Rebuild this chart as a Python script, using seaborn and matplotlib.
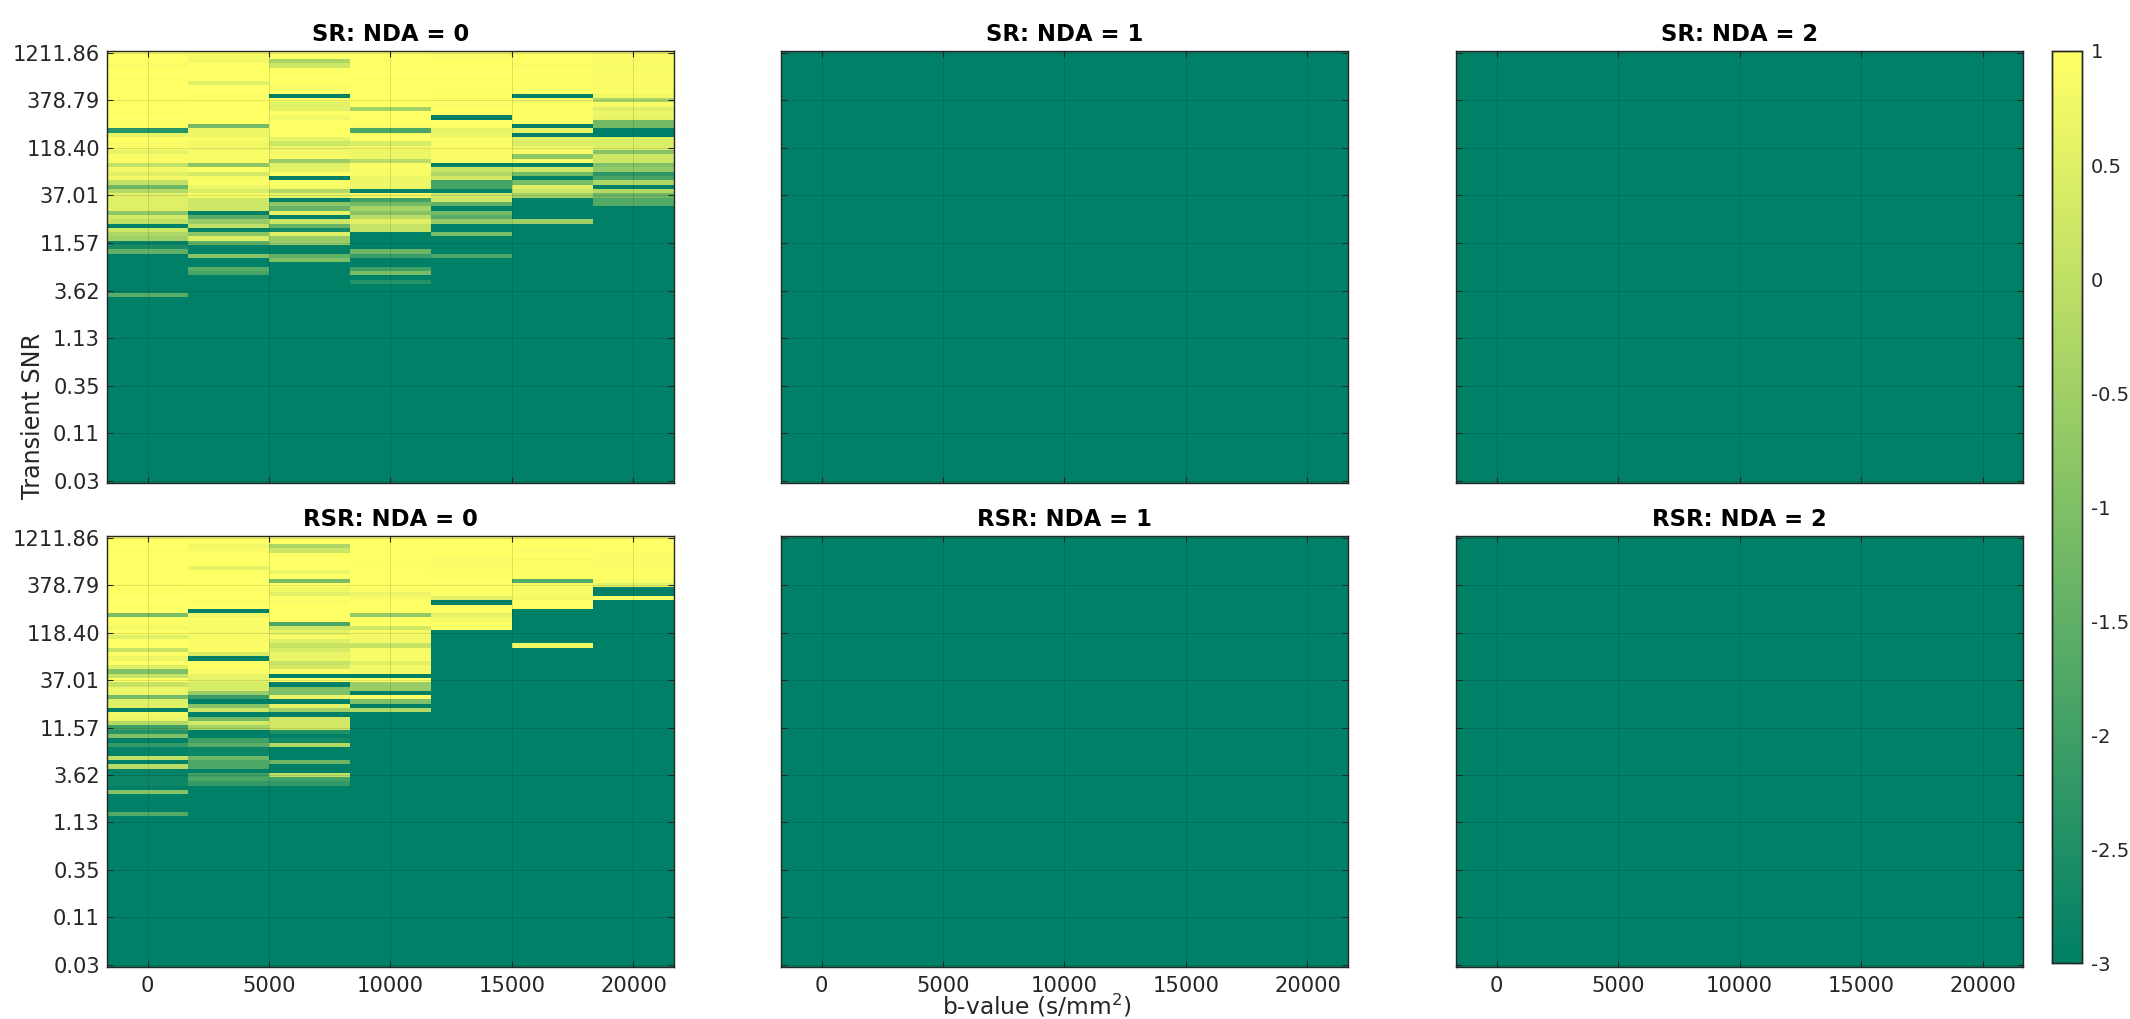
import numpy as np
import matplotlib
matplotlib.use("Agg")
import matplotlib.pyplot as plt
import seaborn as sns

# each list = one b-value column, rows top to bottom, rest of the 100 rows stay at the floor
floor = -3
n_rows = 100
b_values = [0, 3333.33, 6666.67, 10000, 13333.33, 16666.67, 20000]

sr_0 = [1, 1, 1, .9, 1, 1, .95, 1, 1, 1, 1, 1, 1, 1, .95, 1, .95, .95, -2.4, .6,
        1, .9, .95, .6, .9, .9, 0, .8, .5, .8, 0, -1.3, -.2, .5, .5, .5, .5, -.8, .3, 0,
        -3, .2, -.3, -.5, -2.9, -2.6, -1.5, -3, -3, -3, -3, -3, -3, -3, -3, -3, -1.6]
sr_3333 = [1, .8, .8, 1, 1, 1, 1, .5, 1, 1, .9, 1, 1, 1, 1, 1, 1, -1.2, .7, .7,
           .85, .75, .8, .85, .85, .85, -.8, .95, .3, .85, .95, .7, .4, .85, .2, .2, .2, -3, -1.6, -.6,
           0, -2.9, -.8, .4, -1.5, -3, -3, -.9, -3, -3, -1.6, -1.9]
sr_6667 = [1, 1, -.3, .2, .95, .95, 1, 1, .9, 1, -3, 1, .55, .55, 1, .8, 1, 1, 1, 1,
           .6, .2, .7, .8, .85, -.6, .5, .6, .95, -3, .95, .85, -.2, .6, -3, -.8, -1.4, .6, -3, .2,
           -1.4, -2.7, .5, -.6, -.6, -3, -3, -1.5, -1]
sr_10000 = [1, 1, 1, 1, 1, 1, .95, 1, .95, 1, 1, 1, 1, -.5, 1, 1, 1, .9, -1.8, 1,
            1, .4, .8, .7, .7, -.1, .95, .9, .85, .7, .7, .7, -3, .8, -2, -1.2, -.4, -.9, -.1, .5,
            .1, .1, -3, -3, -3, -3, -1.3, -2.1, -3, -3, -2, -1.1, -3, -2.4]
sr_13333 = [.9, .9, 1, 1, 1, 1, .95, 1, 1, .95, 1, 1, .9, 1, 1, -3, 1, .95, .6, .7,
            .9, .9, .9, .9, .9, .9, -3, .1, -.3, .3, -1.9, -1.9, -2.9, .2, .2, -1.5, -3, -1.2, -1.6, -.6,
            -3, -3, -1.1, -3, -3, -3, -3, -1.8]
sr_16667 = [1, 1, 1, .9, .95, .95, .95, .95, .95, .95, -3, .95, .95, .95, .95, .95, .95, -3, .6, -3,
            .5, .4, .8, .85, -.8, .85, -3, .2, -1.2, -3, -1.1, .5, .2, -.5, -3, -3, -3, -3, -3, -.5]
sr_20000 = [.9, .9, .9, .9, .85, .9, .9, .9, .9, .9, .75, -.3, .85, .5, .7, .6, -1.2, -1.2, -3, -3,
            .45, .45, .45, -.9, .2, .2, -1, -.7, -2.3, -1.9, -.3, -3, -.2, -1.3, -1.7, -1.7]

rsr_0 = [1, 1, 1, .95, 1, 1, 1, 1, 1, 1, 1, 1, 1, .95, 1, 1, .95, 1, -1.1, 1,
         .9, .8, 1, .5, 1, 1, .1, 1, .7, 1, .5, -1, .1, 1, .1, .7, .7, -1.2, .5, .5,
         -3, .8, .7, -.2, -2, -2.4, -1, -3, -2.2, -2.9, -2.9, 0, -3, -.1, -3, -2.9, -2.8, -2.8, -3, -.9,
         -3, -3, -3, -3, -1.7]
rsr_3333 = [1, .95, .8, .9, 1, 1, 1, .6, 1, 1, .95, 1, .95, 1, 1, .95, 1, -3, .7, .9,
            .9, .85, .85, .85, .9, .9, .95, .4, -3, 1, 1, .9, .6, .6, .35, .35, -.6, -2.1, -3, -.9,
            .2, -3, -1.2, .3, -.4, -3, -3, -2, -1.6, -2.8, -2.8, -1.3, -1.8, -1.8, -3, -2, -1.8, -2.2]
rsr_6667 = [1, 1, -.3, .2, .95, 1, 1, 1, .7, 1, -1.1, 1, .75, .55, 1, .9, 1, 1, 1, 1,
            -1.8, .2, .6, .9, .5, .1, .4, .65, .65, .1, .3, .9, -3, 1, -3, -1, -1, .7, -3, .6,
            -.5, -3, .3, .3, .3, -2.5, -3, -2.7, -.2, -3, -3, -3, -1.3, -3, -3, 0, -1.9, -2.2]
rsr_10000 = [1, 1, 1, 1, 1, 1, .95, 1, .95, 1, 1, 1, .95, .7, .85, 1, 1, 1, -.7, 1,
             1, .3, .85, .8, .8, .1, .85, .85, .9, .5, .8, .8, -3, .95, -.6, -.6, -3, .95, -1, -3,
             -.2]
rsr_13333 = [.95, 1, 1, 1, 1, .9, .9, .95, .95, .95, 1, 1, 1, 1, .55, -3, 1, 1, .55, .8,
             .95, .95]
rsr_16667 = [1, 1, 1, .9, 1, .9, .95, .95, .95, .95, -1.7, .95, .85, .85, .8, .98, .98, -3, -3, -3,
             -3, -3, -3, -3, -3, .75]
rsr_20000 = [1, 1, 1, 1, .9, .9, .9, .95, .95, .95, .85, .6, -3, -3, .95]

sr_nda0 = [sr_0, sr_3333, sr_6667, sr_10000, sr_13333, sr_16667, sr_20000]
rsr_nda0 = [rsr_0, rsr_3333, rsr_6667, rsr_10000, rsr_13333, rsr_16667, rsr_20000]
no_signal = [[] for b in b_values]

panels = [("SR: NDA = 0", sr_nda0), ("SR: NDA = 1", no_signal), ("SR: NDA = 2", no_signal),
          ("RSR: NDA = 0", rsr_nda0), ("RSR: NDA = 1", no_signal), ("RSR: NDA = 2", no_signal)]

snr_labels = ["1211.86", "378.79", "118.40", "37.01", "11.57", "3.62", "1.13", "0.35", "0.11", "0.03"]
snr_rows = [1, 12, 23, 34, 45, 56, 67, 78, 89, 100]
x_ticks = [0, 5000, 10000, 15000, 20000]
cbar_ticks = [-3, -2.5, -2, -1.5, -1, -0.5, 0, 0.5, 1]
cbar_labels = ["-3", "-2.5", "-2", "-1.5", "-1", "-0.5", "0", "0.5", "1"]

W, H = 2130, 1019
txt = "#262626"
sns.set_style("white")
plt.rcParams["text.color"] = txt
plt.rcParams["axes.edgecolor"] = txt
plt.rcParams["axes.linewidth"] = 1.0


def to_matrix(columns):
    m = np.full((n_rows, len(columns)), float(floor))
    for j, c in enumerate(columns):
        m[:len(c), j] = c
    return m


def box(left, top, right, bottom):
    return [left / W, 1 - bottom / H, (right - left) / W, (bottom - top) / H]


fig = plt.figure(figsize=(W / 100, H / 100), dpi=100)
lefts = [107, 781, 1456]
widths = 567
tops = [(50.5, 483), (535.5, 967)]
cax = fig.add_axes(box(2052, 51, 2081.5, 963.3))

for i, (title, columns) in enumerate(panels):
    r, c = divmod(i, 3)
    ax = fig.add_axes(box(lefts[c], tops[r][0], lefts[c] + widths, tops[r][1]))
    sns.heatmap(to_matrix(columns), ax=ax, cmap="summer", vmin=-3, vmax=1,
                cbar=i == 0, cbar_ax=cax if i == 0 else None,
                cbar_kws={"ticks": cbar_ticks} if i == 0 else None,
                xticklabels=False, yticklabels=False)
    ax.set_title(title, fontsize=16.4, fontweight="bold", color="black", pad=6.5)
    # b-value to cell position
    ax.set_xticks([0.5 + t / (b_values[-1] / 6) for t in x_ticks])
    ax.set_yticks([k - 0.5 for k in snr_rows])
    ax.set_xticklabels([str(t) for t in x_ticks] if r == 1 else [])
    ax.set_yticklabels(snr_labels if c == 0 else [], rotation=0)
    ax.tick_params(direction="in", length=4.3, width=0.8, color=txt, labelcolor=txt,
                   labelsize=15.1, top=True, right=True, bottom=True, left=True)
    ax.tick_params(axis="x", pad=6.3)
    ax.tick_params(axis="y", pad=5)
    ax.grid(True, color="black", alpha=0.12, linewidth=0.7)
    ax.set_axisbelow(False)
    for s in ax.spines.values():
        s.set_visible(True)
        s.set_color(txt)
        s.set_linewidth(1.0)

fig.text(33 / W, 1 - 416 / H, "Transient SNR", rotation=90, fontsize=17.2, ha="center", va="center")
fig.text(1037 / W, 1 - 1006 / H, "b-value (s/mm$^{2}$)", fontsize=16.8, ha="center", va="center")

cax.set_yticklabels(cbar_labels)
cax.tick_params(direction="in", length=7, width=0.8, color=txt, labelcolor=txt, labelsize=14,
                left=False, right=True, pad=6.8)
for s in cax.spines.values():
    s.set_visible(True)
    s.set_color(txt)
    s.set_linewidth(1.0)

fig.savefig("out.png", dpi=100)
